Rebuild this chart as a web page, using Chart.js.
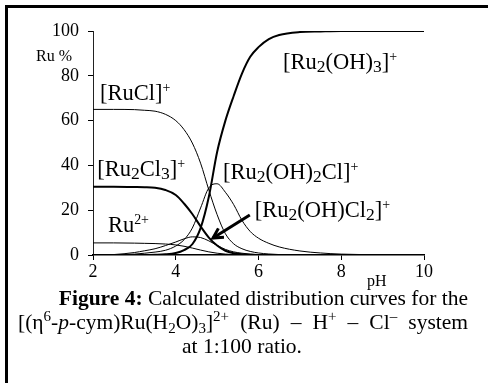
<!DOCTYPE html>
<html><head><meta charset="utf-8">
<script src="https://cdn.jsdelivr.net/npm/chart.js@4.4.0/dist/chart.umd.min.js"></script>
<style>
html,body{margin:0;padding:0;background:#fff;}
body{width:489px;height:383px;overflow:hidden;position:relative;font-family:"Liberation Serif","Times New Roman",serif;}
#frame{position:absolute;left:5px;top:5px;width:480px;height:400px;border-left:3px solid #000;border-top:3px solid #000;}
#wrap{position:absolute;left:0;top:0;width:489px;height:292px;}
.cap{position:absolute;font-size:21.5px;color:#000;white-space:nowrap;line-height:22px;}
.cap sup,.cap sub{font-size:0.7em;line-height:0;position:relative;vertical-align:baseline;}
.cap sup{top:-0.55em;}
.cap sub{top:0.25em;}
#l2{left:18px;width:450px;text-align:justify;text-align-last:justify;white-space:normal;}
</style></head><body>
<div id="frame"></div>
<div id="wrap"><canvas id="c" width="489" height="292"></canvas></div>
<div class="cap" style="right:21px;top:287px"><b>Figure 4:</b> Calculated distribution curves for the</div>
<div class="cap" id="l2" style="top:311px">[(η<sup>6</sup>-<i>p</i>-cym)Ru(H<sub>2</sub>O)<sub>3</sub>]<sup>2+</sup> (Ru) – H<sup>+</sup> – Cl<sup>–</sup> system</div>
<div class="cap" style="left:0;width:484px;text-align:center;top:335px">at 1:100 ratio.</div>
<script>
const pH        = [2, 2.5, 3, 3.25, 3.5, 3.75, 4, 4.2, 4.4, 4.6, 4.8, 5, 5.2, 5.4, 5.6, 5.8, 6, 6.25, 6.5, 7, 7.5, 8, 9, 10];
const ru2oh3    = [0, 0, 0, 0, 0.1, 0.3, 0.9, 2.2, 4.8, 12, 26, 46, 60, 71, 81, 88.5, 92.8, 96.4, 98.2, 99.5, 99.8, 100, 100, 100];
const rucl      = [65, 65, 64.9, 64.6, 64.2, 62.8, 60, 56, 50, 41, 29, 18, 9.5, 5, 2.8, 1.6, 0.9, 0.45, 0.2, 0.1, 0, 0, 0, 0];
const ru2cl3    = [30.5, 30.5, 30.4, 30.3, 30, 29, 26.8, 23, 18.3, 12.8, 7.8, 4.2, 1.9, 0.8, 0.3, 0.1, 0, 0, 0, 0, 0, 0, 0, 0];
const ru2oh2cl  = [0, 0.1, 0.4, 0.8, 1.3, 2.1, 4, 6.8, 12, 21, 30, 31.8, 28, 22.5, 15.5, 10.5, 7.5, 5.2, 3.6, 1.8, 0.9, 0.4, 0.1, 0];
const ru2ohcl2  = [0, 0.2, 1.1, 1.9, 2.8, 4.2, 5.8, 7.2, 8.1, 7.8, 6.3, 4.3, 2.5, 1.4, 0.8, 0.4, 0.2, 0.1, 0, 0, 0, 0, 0, 0];
const ru2plus   = [5.4, 5.4, 5.3, 5.2, 5.1, 4.9, 4.5, 3.9, 3.1, 2.2, 1.4, 0.8, 0.4, 0.2, 0.1, 0, 0, 0, 0, 0, 0, 0, 0, 0];
const xTicks = [2, 4, 6, 8, 10];
const yTicks = [0, 20, 40, 60, 80, 100];

const FONT = '"Liberation Serif","Times New Roman",serif';
const pts = arr => pH.map((x, i) => ({x, y: arr[i]}));
const ds = (label, arr, w) => ({label, data: pts(arr), borderColor: '#000', borderWidth: w,
  pointRadius: 0, fill: false, cubicInterpolationMode: 'monotone'});

// species labels: [parts, pH (left edge), value (baseline)]
const labels = [
  [[['[Ru','n'],['2','sub'],['(OH)','n'],['3','sub'],[']','n'],['+','sup']], 6.59, 82.9],
  [[['[RuCl]','n'],['+','sup']], 2.17, 69.0],
  [[['[Ru','n'],['2','sub'],['Cl','n'],['3','sub'],[']','n'],['+','sup']], 2.1, 35.2],
  [[['Ru','n'],['2+','sup']], 2.36, 10.1],
  [[['[Ru','n'],['2','sub'],['(OH)','n'],['2','sub'],['Cl]','n'],['+','sup']], 5.14, 33.9],
  [[['[Ru','n'],['2','sub'],['(OH)Cl','n'],['2','sub'],[']','n'],['+','sup']], 5.91, 17.0]
];

function drawRich(ctx, parts, x, y, size) {
  let cx = x;
  for (const [t, m] of parts) {
    const s = m === 'n' ? size : (m === 'sub' ? size * 0.78 : size * 0.62);
    ctx.font = s + 'px ' + FONT;
    const dy = m === 'sub' ? size * 0.14 : (m === 'sup' ? -size * 0.36 : 0);
    ctx.fillText(t, cx, y + dy);
    cx += ctx.measureText(t).width;
  }
}

const annot = {
  id: 'annot',
  afterDatasetsDraw(chart) {
    const {ctx, scales: {x, y}, chartArea} = chart;
    ctx.save();
    ctx.fillStyle = '#000';
    ctx.textBaseline = 'alphabetic';
    ctx.textAlign = 'left';
    for (const [parts, px, py] of labels) drawRich(ctx, parts, x.getPixelForValue(px), y.getPixelForValue(py), 22.5);
    // axis titles
    ctx.font = '16px ' + FONT;
    ctx.textAlign = 'center';
    ctx.textBaseline = 'middle';
    ctx.fillText('Ru %', chartArea.left - 39, y.getPixelForValue(88.4));
    ctx.fillText('pH', x.getPixelForValue(8.86), chartArea.bottom + 27);
    // arrow
    const x1 = x.getPixelForValue(5.79), y1 = y.getPixelForValue(17.9);
    const x2 = x.getPixelForValue(4.9), y2 = y.getPixelForValue(7.6);
    ctx.strokeStyle = '#000';
    ctx.lineWidth = 3;
    ctx.lineCap = 'butt';
    ctx.beginPath(); ctx.moveTo(x1, y1); ctx.lineTo(x2, y2); ctx.stroke();
    const ang = Math.atan2(y2 - y1, x2 - x1), L = 11;
    ctx.beginPath();
    ctx.moveTo(x2 - L * Math.cos(ang - 0.5), y2 - L * Math.sin(ang - 0.5));
    ctx.lineTo(x2, y2);
    ctx.lineTo(x2 - L * Math.cos(ang + 0.5), y2 - L * Math.sin(ang + 0.5));
    ctx.stroke();
    ctx.restore();
  }
};

const chart = new Chart(document.getElementById('c'), {
  type: 'line',
  data: {datasets: [
    ds('[RuCl]+', rucl, 1),
    ds('Ru2+', ru2plus, 1),
    ds('[Ru2(OH)Cl2]+', ru2ohcl2, 1),
    ds('[Ru2(OH)2Cl]+', ru2oh2cl, 1),
    ds('[Ru2Cl3]+', ru2cl3, 2),
    ds('[Ru2(OH)3]+', ru2oh3, 2)
  ]},
  options: {
    responsive: false, animation: false, devicePixelRatio: 1,
    layout: {padding: {left: 8, right: 65, top: 31, bottom: 0}},
    plugins: {legend: {display: false}, tooltip: {enabled: false}},
    scales: {
      x: {type: 'linear', min: 2, max: 10,
        afterBuildTicks: s => { s.ticks = xTicks.map(v => ({value: v})); },
        ticks: {color: '#000', font: {family: FONT, size: 18}, padding: 1, maxRotation: 0},
        grid: {display: true, drawOnChartArea: false, drawTicks: true, tickLength: 5, color: '#000'},
        border: {display: true, color: '#000', width: 1.5},
        afterFit: s => { s.height = 37; }},
      y: {min: 0, max: 100,
        afterBuildTicks: s => { s.ticks = yTicks.map(v => ({value: v})); },
        ticks: {color: '#000', font: {family: FONT, size: 18}, padding: 9},
        grid: {display: true, drawOnChartArea: false, drawTicks: true, tickLength: 5, color: '#000'},
        border: {display: true, color: '#222', width: 1},
        afterFit: s => { s.width = 85; }}
    }
  },
  plugins: [annot]
});
if (document.fonts && document.fonts.ready) document.fonts.ready.then(() => chart.update());
</script>
</body></html>
